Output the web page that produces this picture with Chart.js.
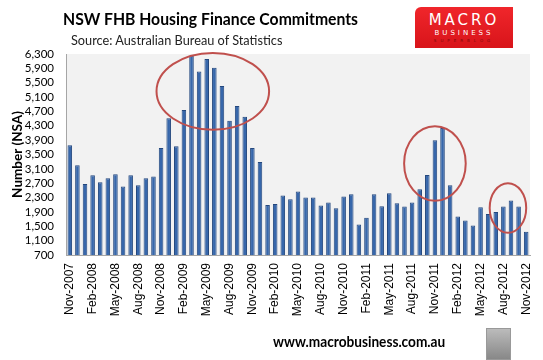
<!DOCTYPE html>
<html>
<head>
<meta charset="utf-8">
<script src="https://cdn.jsdelivr.net/npm/chart.js@4.4.1/dist/chart.umd.min.js"></script>
<style>
  body { margin: 0; background: #fff; }
  #wrap { position: relative; width: 543px; height: 360px; overflow: hidden; }
  #chart { position: absolute; left: 0; top: 0; }
  .title { position: absolute; left: 63px; top: 8px; font: bold 17.5px Lato, sans-serif; color: #000; white-space: nowrap; transform: scaleX(0.9); transform-origin: left; }
  .sub { position: absolute; left: 71px; top: 31px; font: 14px Lato, sans-serif; color: #222; white-space: nowrap; transform: scaleX(0.91); transform-origin: left; }
  .logo { position: absolute; left: 415px; top: 7px; width: 98px; height: 41px;
          background: linear-gradient(180deg, #f0262b, #d8141a); border-top-left-radius: 6px; text-align: center; }
  .logo .m { font: 15px "DejaVu Sans", sans-serif; color: #fff; letter-spacing: 3px; margin-top: 5px; line-height: 16px; }
  .logo .b { font: 7px "DejaVu Sans", sans-serif; color: #fff; letter-spacing: 3px; line-height: 10px; }
  .logo .s { font: 4px "DejaVu Sans", sans-serif; color: #7a0a0a; letter-spacing: 4px; line-height: 6px; }
  .foot { position: absolute; left: 273px; top: 332px; font: bold 15px Lato, sans-serif; color: #000; white-space: nowrap; transform: scaleX(0.91); transform-origin: left; }
  .wolf { position: absolute; left: 486px; top: 328px; width: 23px; height: 30px; background: linear-gradient(180deg, #bbb, #888); border: 1px solid #999; }
</style>
</head>
<body>
<div id="wrap">
  <canvas id="chart" width="543" height="360"></canvas>
  <div class="title">NSW FHB Housing Finance Commitments</div>
  <div class="sub">Source: Australian Bureau of Statistics</div>
  <div class="logo"><div class="m">MACRO</div><div class="b">BUSINESS</div><div class="s">SUPERBLOG</div></div>
  <div class="foot">www.macrobusiness.com.au</div>
  <div class="wolf"></div>
</div>
<script>
// Monthly labels Nov-2007 .. Nov-2012
const months = ['Jan', 'Feb', 'Mar', 'Apr', 'May', 'Jun', 'Jul', 'Aug', 'Sep', 'Oct', 'Nov', 'Dec'];
const labels = [];
for (let i = 0; i < 61; i++) {
  const m = (10 + i) % 12;
  const y = 2007 + Math.floor((10 + i) / 12);
  labels.push(months[m] + '-' + y);
}

// Number of first home buyer commitments (NSA)
const commitments = [
  3760, 3200, 2680, 2920, 2725, 2840, 2950, 2610, 2920, 2640, 2840, 2890,
  3680, 4510, 3730, 4740, 6250, 5810, 6160, 5920, 5410, 4440, 4850, 4550,
  3680, 3290, 2090, 2120, 2360, 2250, 2470, 2300, 2300, 2080, 2160, 2000,
  2330, 2390, 1550, 1740, 2390, 2060, 2420, 2140, 2050, 2160, 2530, 2930,
  3900, 4240, 2640, 1770, 1660, 1520, 2030, 1840, 1900, 2050, 2220, 2050,
  1350
];

// Red ellipses: [centre index, centre value, half-width in months, half-height in value]
const highlights = [
  [18.8, 5260, 7.4, 1070],
  [48.0, 3250, 4.05, 1040],
  [57.6, 2010, 2.4, 690]
];

const Y_MIN = 700, Y_MAX = 6300, Y_STEP = 400;

const plotBg = {
  id: 'plotBg',
  beforeDraw(chart) {
    const { ctx, chartArea: a } = chart;
    ctx.save();
    ctx.fillStyle = '#f2f2f2';
    ctx.fillRect(a.left, a.top, a.right - a.left, a.bottom - a.top);
    ctx.restore();
  }
};

const ellipses = {
  id: 'ellipses',
  afterDatasetsDraw(chart) {
    const { ctx, scales: { x, y } } = chart;
    ctx.save();
    ctx.strokeStyle = '#c0504d';
    ctx.lineWidth = 2;
    highlights.forEach(([ci, cv, ri, rv]) => {
      const cx = x.getPixelForValue(ci);
      const cy = y.getPixelForValue(cv);
      const rx = Math.abs(x.getPixelForValue(ci + ri) - cx);
      const ry = Math.abs(y.getPixelForValue(cv + rv) - cy);
      ctx.beginPath();
      ctx.ellipse(cx, cy, rx, ry, 0, 0, Math.PI * 2);
      ctx.stroke();
    });
    ctx.restore();
  }
};

new Chart(document.getElementById('chart'), {
  type: 'bar',
  data: {
    labels: labels,
    datasets: [{
      data: commitments,
      backgroundColor: '#3767ab',
      borderColor: '#24487e',
      borderWidth: 1,
      barPercentage: 0.6,
      categoryPercentage: 1.0
    }]
  },
  options: {
    responsive: false,
    animation: false,
    layout: { padding: { top: 54, right: 13, bottom: 0, left: 0 } },
    plugins: { legend: { display: false }, tooltip: { enabled: false } },
    scales: {
      x: {
        grid: { display: false, drawTicks: false },
        border: { color: '#a6a6a6' },
        ticks: {
          autoSkip: false,
          maxRotation: 90,
          minRotation: 90,
          padding: 8,
          color: '#000',
          font: { family: 'Liberation Sans', size: 12 },
          callback: (v, i) => (i % 3 === 0 ? labels[i] : '')
        },
        afterFit: s => { s.height = 105; s.paddingLeft = 0; s.paddingRight = 0; }
      },
      y: {
        min: Y_MIN,
        max: Y_MAX,
        grid: { display: false, drawTicks: false },
        border: { color: '#a6a6a6' },
        ticks: {
          autoSkip: false,
          stepSize: Y_STEP,
          padding: 12,
          color: '#000',
          font: { family: 'Lato', size: 11.5 },
          callback: v => v.toLocaleString('en-US')
        },
        title: {
          display: true,
          text: 'Number (NSA)',
          color: '#000',
          font: { family: 'Lato', size: 13.5, weight: 'bold' },
          padding: { top: 10, bottom: 0 }
        },
        afterFit: s => { s.width = 66; s.paddingTop = 0; s.paddingBottom = 0; }
      }
    }
  },
  plugins: [plotBg, ellipses]
});
</script>
</body>
</html>
